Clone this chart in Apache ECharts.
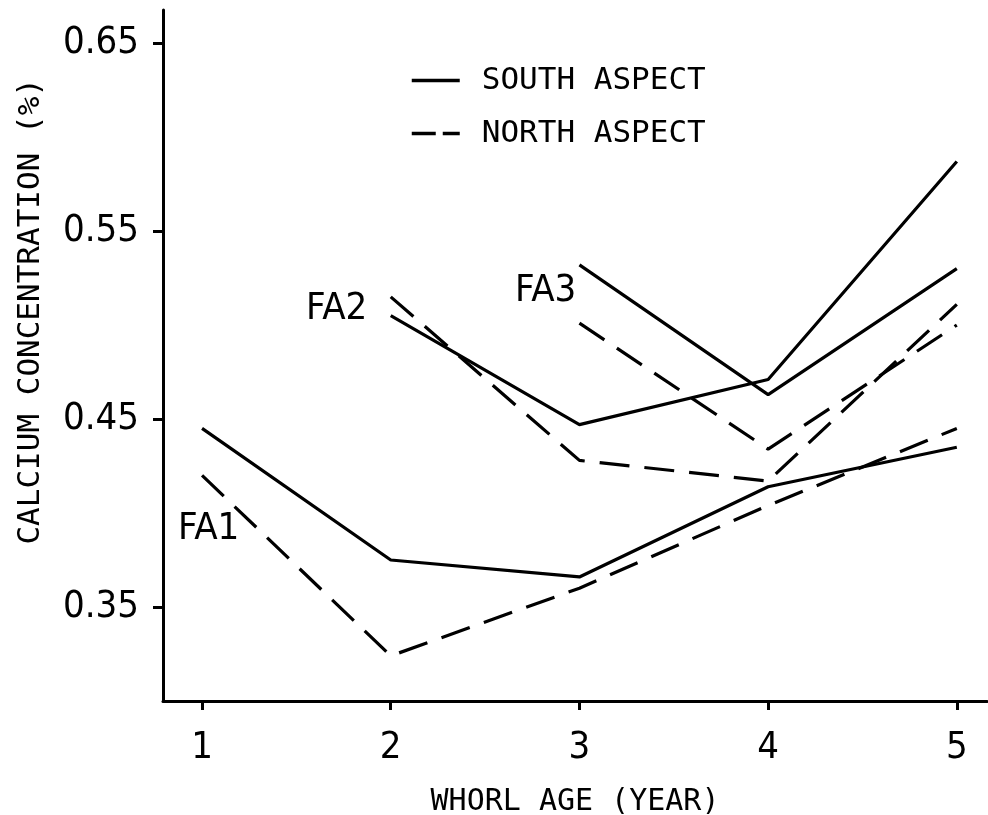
<!DOCTYPE html>
<html>
<head>
<meta charset="utf-8">
<script src="https://cdn.jsdelivr.net/npm/echarts@6/dist/echarts.min.js"></script>
<style>
  html, body { margin: 0; padding: 0; background: #fff; }
  #chart { width: 988px; height: 815px; }
</style>
</head>
<body>
<div id="chart"></div>
<script>
// whorl age in years
const years = [1, 2, 3, 4, 5]
const xTicks = [1, 2, 3, 4, 5]
const yTicks = [0.35, 0.45, 0.55, 0.65]

// calcium concentration (%), null where the flush is not present yet
const fa1South = [0.445, 0.375, 0.366, 0.414, 0.435]
const fa1North = [0.420, 0.324, 0.360, 0.404, 0.445]
const fa2South = [null, 0.505, 0.447, 0.471, 0.587]
const fa2North = [null, 0.515, 0.428, 0.417, 0.511]
const fa3South = [null, null, 0.532, 0.463, 0.530]
const fa3North = [null, null, 0.501, 0.434, 0.500]

const mono = "'DejaVu Sans Mono', monospace"
const narrow = "'DejaVu Sans Condensed', 'DejaVu Sans', sans-serif"

const toPairs = (vals) => years.map((y, i) => [y, vals[i]]).filter(p => p[1] !== null)

const makeLine = (name, vals, dashed) => ({
  type: 'line',
  name: name,
  data: toPairs(vals),
  symbol: 'none',
  animation: false,
  itemStyle: { color: '#000' },
  lineStyle: {
    color: '#000',
    width: 3.2,
    type: dashed ? [30, 15] : 'solid'
  }
})

const myChart = echarts.init(document.getElementById('chart'))

const options = {
  backgroundColor: '#fff',
  grid: {
    left: 163,
    right: 1,
    top: 10,
    bottom: 114,
    outerBoundsMode: 'none'
  },
  legend: {
    data: [
      { name: 'SOUTH ASPECT', lineStyle: { type: 'solid' } },
      { name: 'NORTH ASPECT', lineStyle: { type: [24, 7] } }
    ],
    orient: 'vertical',
    left: 405,
    top: 60,
    itemWidth: 48,
    itemHeight: 14,
    itemGap: 22,
    itemStyle: { opacity: 0 },
    lineStyle: { width: 3.5, color: '#000' },
    textStyle: {
      fontFamily: mono,
      fontSize: 31,
      color: '#000',
      padding: [0, 0, 0, 17]
    }
  },
  xAxis: {
    type: 'value',
    min: 0.793,
    max: 5.16,
    splitLine: { show: false },
    axisLine: { lineStyle: { color: '#000', width: 3 } },
    axisTick: {
      show: true,
      customValues: xTicks,
      length: 9,
      lineStyle: { color: '#000', width: 3 }
    },
    axisLabel: {
      customValues: xTicks,
      margin: 28,
      fontFamily: narrow,
      fontSize: 38,
      color: '#000'
    },
    name: 'WHORL AGE (YEAR)',
    nameLocation: 'middle',
    nameGap: 86,
    nameTextStyle: {
      fontFamily: mono,
      fontSize: 30,
      color: '#000'
    }
  },
  yAxis: {
    type: 'value',
    min: 0.30,
    max: 0.6676,
    splitLine: { show: false },
    axisLine: { show: true, lineStyle: { color: '#000', width: 3 } },
    axisTick: {
      show: true,
      customValues: yTicks,
      length: 10,
      lineStyle: { color: '#000', width: 3 }
    },
    axisLabel: {
      customValues: yTicks,
      margin: 24,
      fontFamily: narrow,
      fontSize: 38,
      color: '#000',
      formatter: (v) => v.toFixed(2)
    }
  },
  graphic: [
    {
      type: 'text',
      left: 15,
      top: 78,
      rotation: Math.PI / 2,
      style: {
        text: 'CALCIUM CONCENTRATION (%)',
        fontFamily: mono,
        fontSize: 31,
        fill: '#000'
      }
    },
    { type: 'text', left: 178, top: 510, style: { text: 'FA1', fontFamily: narrow, fontSize: 38, fill: '#000' } },
    { type: 'text', left: 306, top: 290, style: { text: 'FA2', fontFamily: narrow, fontSize: 38, fill: '#000' } },
    { type: 'text', left: 515, top: 272, style: { text: 'FA3', fontFamily: narrow, fontSize: 38, fill: '#000' } }
  ],
  series: [
    makeLine('SOUTH ASPECT', fa1South, false),
    makeLine('NORTH ASPECT', fa1North, true),
    makeLine('SOUTH ASPECT', fa2South, false),
    makeLine('NORTH ASPECT', fa2North, true),
    makeLine('SOUTH ASPECT', fa3South, false),
    makeLine('NORTH ASPECT', fa3North, true)
  ]
}

myChart.setOption(options)
</script>
</body>
</html>
